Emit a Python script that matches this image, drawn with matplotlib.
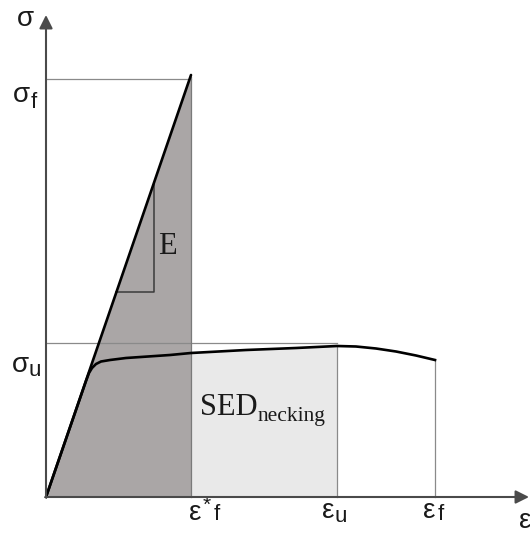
import matplotlib
matplotlib.use("Agg")
import matplotlib.pyplot as plt
import numpy as np

# Stress-strain sketch, units are arbitrary (same scale on both axes)
eps_star_f = 145   # strain where the elastic line reaches sigma_f
eps_u = 291        # uniform strain (peak of the curve)
eps_f = 389        # fracture strain
sigma_f = 418      # true fracture stress level
sigma_u = 154      # ultimate stress level

# ideal linear-elastic line up to fracture
elastic_strain = [0, eps_star_f]
elastic_stress = [0, 422]

# engineering curve: elastic rise, knee, hardening plateau, necking drop
curve_strain = np.array([0, 40, 43, 46, 50, 55, 64, 80, 124, 145, 200, 250, 291,
                         310, 330, 350, 370, 389])
curve_stress = np.array([0, 116, 124, 129, 133, 135.5, 137, 139, 142, 144, 147, 149, 151,
                         150.5, 148.5, 145.5, 141.5, 137])

# slope triangle for E
tri_strain = [70, 108, 108]
tri_stress = [205, 205, 314]

dark_fill = "#aaa6a6"
light_fill = "#e9e9e9"
guide = "#8a8a8a"
axis_col = "#4a4a4a"

plt.rcParams["font.family"] = ["Liberation Sans", "DejaVu Sans"]

fig = plt.figure(figsize=(5.30, 5.33), dpi=100)
ax = fig.add_axes([0, 0, 1, 1])
ax.set_xlim(-46, 484)
ax.set_ylim(-36, 497)
ax.axis("off")

# shaded energy areas
ax.fill_between(elastic_strain, 0, elastic_stress, color=dark_fill, lw=0, zorder=1)
neck = (curve_strain >= eps_star_f) & (curve_strain <= eps_u)
ax.fill_between(curve_strain, 0, curve_stress, where=neck, color=light_fill, lw=0, zorder=1)

# guide lines
ax.plot([0, eps_star_f], [sigma_f, sigma_f], color=guide, lw=0.9, zorder=2)
ax.plot([0, eps_u], [sigma_u, sigma_u], color=guide, lw=0.9, zorder=2)
ax.plot([eps_star_f, eps_star_f], [0, sigma_f + 2], color="#7a7a7a", lw=0.9, zorder=2)
ax.plot([eps_u, eps_u], [0, curve_stress[curve_strain == eps_u][0]], color=guide, lw=0.9, zorder=2)
ax.plot([eps_f, eps_f], [0, curve_stress[-1]], color=guide, lw=0.9, zorder=2)

# slope triangle
ax.plot(tri_strain, tri_stress, color="#3a3a3a", lw=1.1, zorder=3)

# curves
ax.plot(elastic_strain, elastic_stress, color="black", lw=1.9, solid_capstyle="round", zorder=4)
ax.plot(curve_strain, curve_stress, color="black", lw=1.9, solid_joinstyle="round", zorder=4)

# axes with arrow heads
ax.annotate("", xy=(483, 0), xytext=(0, 0),
            arrowprops=dict(arrowstyle="-|>", mutation_scale=20, color=axis_col, lw=1.5,
                            shrinkA=0, shrinkB=0), zorder=5)
ax.annotate("", xy=(0, 482), xytext=(0, 0),
            arrowprops=dict(arrowstyle="-|>", mutation_scale=20, color=axis_col, lw=1.5,
                            shrinkA=0, shrinkB=0), zorder=5)

# axis symbols
lab = dict(color="#1a1a1a", ha="center", va="center")
ax.text(-21, 478, "σ", fontsize=20, **lab)
ax.text(-25, 402, "σ", fontsize=20, **lab)
ax.text(-12, 395, "f", fontsize=16, **lab)
ax.text(-26, 132, "σ", fontsize=20, **lab)
ax.text(-11, 126, "u", fontsize=16, **lab)

ax.text(149, -16, "ε", fontsize=20, **lab)
ax.text(161, -8, "*", fontsize=15, **lab)
ax.text(171, -18, "f", fontsize=16, **lab)
ax.text(282, -14, "ε", fontsize=20, **lab)
ax.text(295, -19, "u", fontsize=16, **lab)
ax.text(383, -14, "ε", fontsize=20, **lab)
ax.text(395, -18, "f", fontsize=16, **lab)
ax.text(473, -24, "ε", fontsize=20, color="#1a1a1a", ha="left", va="center")

# serif annotations
ax.text(121, 251, "E", fontsize=22, family="Liberation Serif", color="#1a1a1a",
        ha="center", va="center")
ax.text(154, 82, "SED", fontsize=22, family="Liberation Serif", color="#1a1a1a",
        ha="left", va="baseline")
ax.text(212, 76, "necking", fontsize=15.5, family="Liberation Serif", color="#1a1a1a",
        ha="left", va="baseline")

fig.savefig("out.png", dpi=100)
